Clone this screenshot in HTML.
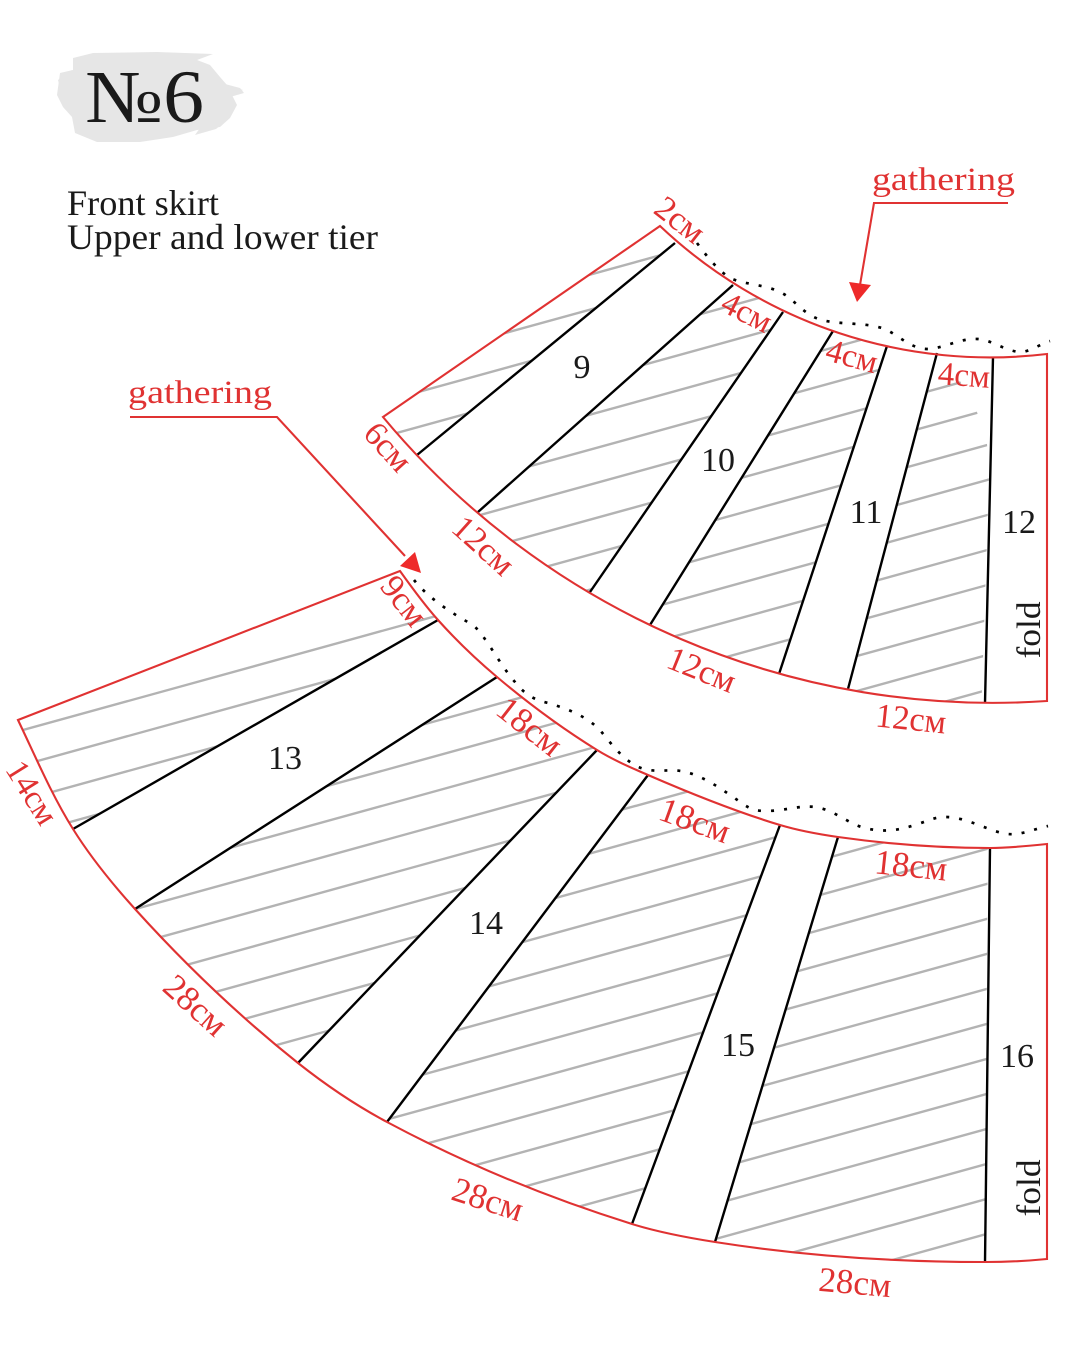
<!DOCTYPE html>
<html>
<head>
<meta charset="utf-8">
<style>
html,body{margin:0;padding:0;background:#fff;width:1081px;height:1350px;overflow:hidden}
svg{display:block;overflow:hidden}
text{font-family:"Liberation Serif",serif}
.r{fill:#e03232}
.k{fill:#1a1a1a}
.n{font-size:34px;text-anchor:middle;fill:#1a1a1a}
.l{text-anchor:middle;fill:#e03232}
</style>
</head>
<body>
<svg width="1081" height="1350" viewBox="0 0 1081 1350" xmlns="http://www.w3.org/2000/svg">
<defs>
<clipPath id="uo"><path d="M383,417 L660,226 A480,480 0 0 0 1047,354 L1047,701 A793,793 0 0 1 383,417 Z"/></clipPath>
<clipPath id="ur">
<polygon points="700,222 380,485 300,400 660,150"/>
<polygon points="761,260 440,546 565,628 800,287"/>
<polygon points="848,307 625,665 770,701 895,322"/>
<polygon points="944,326 840,719 981,719 989,478 987,444 977,412 960,381 955,326"/>
</clipPath>
<clipPath id="lo"><path d="M400,571 L18,720 C35.5,756.6 51.4,794.4 73,829 C90.9,857.7 112.4,884 135,909 C185,964.3 239.7,1016.6 298,1063 C325.8,1085 355.7,1105.3 387,1122 C464.9,1163.6 547.5,1197.7 632,1224 C659,1232.4 687,1237.6 715,1242 C804,1256 895,1262 985,1262 C1006,1262 1027,1261 1047,1259 L1047,844 C1028,846 1009,848 990,848 C939,848 888.3,844.1 838,837 C818.5,834.2 798.9,830.7 780,825 C735,811.5 691.1,793.7 648,775 C630.7,767.5 613.1,759.9 597,750 C561.9,728.3 528.6,703.6 497,677 C476.1,659.4 456.2,640.3 438,620 C424.2,604.6 412,587.8 400,571 Z"/></clipPath>
<clipPath id="lr">
<polygon points="473,600 40,848 -20,700 400,540"/>
<polygon points="530,656 100,931 270,1092 620,726"/>
<polygon points="668,748 365,1151 622,1251 790,798"/>
<polygon points="846,810 705,1275 985,1275 988,810"/>
</clipPath>
</defs>

<rect width="1081" height="1350" fill="#fff"/>

<g fill="#e6e6e6">
<polygon points="73,58 93,53 157,52 213,54 197,60 210,65 220,77 227,85 243,90 232,95 237,105 230,118 220,127 197,130 173,137 140,142 97,142 75,133 72,117 63,107 57,95 60,73 73,70"/>
<polygon points="200,128 222,124 216,129 195,135"/>
<polygon points="225,84 240,88 244,93 230,97"/>
<polygon points="58,80 72,70 72,76 60,88"/>
</g>
<text x="85" y="122" class="k" font-size="75" textLength="119" lengthAdjust="spacingAndGlyphs">№6</text>
<text x="67" y="215" class="k" font-size="36" textLength="152" lengthAdjust="spacingAndGlyphs">Front skirt</text>
<text x="67" y="249" class="k" font-size="36" textLength="311" lengthAdjust="spacingAndGlyphs">Upper and lower tier</text>

<!-- upper hatch -->
<g clip-path="url(#uo)"><g clip-path="url(#ur)" stroke="#b3b3b3" stroke-width="2.4" fill="none">
<path d="M380,332.6L1000,161.5M380,367.6L1000,196.5M380,402.6L1000,231.5M380,437.6L1000,266.5M380,472.6L1000,301.5M380,507.6L1000,336.5M380,542.6L1000,371.5M380,577.6L1000,406.5M380,612.6L1000,441.5M380,647.6L1000,476.5M380,682.6L1000,511.5M380,717.6L1000,546.5M380,752.6L1000,581.5M380,787.6L1000,616.5M380,822.6L1000,651.5M380,857.6L1000,686.5"/>
</g></g>

<!-- lower hatch -->
<g clip-path="url(#lo)"><g clip-path="url(#lr)" stroke="#b3b3b3" stroke-width="2.4" fill="none">
<path d="M-20,741.9L1000,460.3M-20,776.9L1000,495.3M-20,811.9L1000,530.3M-20,846.9L1000,565.3M-20,881.9L1000,600.3M-20,916.9L1000,635.3M-20,951.9L1000,670.3M-20,986.9L1000,705.3M-20,1021.9L1000,740.3M-20,1056.9L1000,775.3M-20,1091.9L1000,810.3M-20,1126.9L1000,845.3M-20,1161.9L1000,880.3M-20,1196.9L1000,915.3M-20,1231.9L1000,950.3M-20,1266.9L1000,985.3M-20,1301.9L1000,1020.3M-20,1336.9L1000,1055.3M96,1340L1000,1090.3M223,1340L1000,1125.3M350,1340L1000,1160.3M476,1340L1000,1195.3M603,1340L1000,1230.3"/>
</g></g>

<!-- black lines -->
<g stroke="#000" stroke-width="2.4" fill="none">
<path d="M675,243L417,455M733,285L478,512M783,312L590,592M833,331L650,625M887,346L779,674M937,353L848,689M993,357L985,703"/>
<path d="M438,620L73,829M497,677L135,909M597,750L298,1063M648,775L387,1122M780,825L632,1224M838,837L715,1242M990,848L985,1262"/>
</g>

<!-- outlines -->
<g stroke="#e03232" stroke-width="2.1" fill="none" stroke-linejoin="miter">
<path d="M383,417 L660,226 A480,480 0 0 0 1047,354 L1047,701 A793,793 0 0 1 383,417 Z"/>
<path d="M400,571 L18,720 C35.5,756.6 51.4,794.4 73,829 C90.9,857.7 112.4,884 135,909 C185,964.3 239.7,1016.6 298,1063 C325.8,1085 355.7,1105.3 387,1122 C464.9,1163.6 547.5,1197.7 632,1224 C659,1232.4 687,1237.6 715,1242 C804,1256 895,1262 985,1262 C1006,1262 1027,1261 1047,1259 L1047,844 C1028,846 1009,848 990,848 C939,848 888.3,844.1 838,837 C818.5,834.2 798.9,830.7 780,825 C735,811.5 691.1,793.7 648,775 C630.7,767.5 613.1,759.9 597,750 C561.9,728.3 528.6,703.6 497,677 C476.1,659.4 456.2,640.3 438,620 C424.2,604.6 412,587.8 400,571 Z"/>
</g>

<!-- dotted gathering -->
<g stroke="#000" stroke-width="2.7" fill="none" stroke-dasharray="3 10">
<path d="M697,243 C708,258 718,270 730,278 C745,285 765,284 782,293 C795,300 805,316 822,320 C840,325 870,322 887,330 C902,338 912,349 928,349 C945,348 960,338 978,339 C992,340 1005,351 1020,352 C1030,352 1040,344 1050,341"/>
<path d="M414,580 C430,600 455,615 473,625 C485,635 500,665 515,682 C525,695 535,700 548,703 C565,708 585,715 600,730 C612,745 625,762 641,768 C655,773 668,769 681,771 C700,774 720,788 733,797 C745,805 750,811 765,811 C785,811 800,805 815,807 C835,810 848,824 865,828 C885,833 900,830 918,824 C930,820 935,817 946,817 C965,817 985,829 1002,833 C1018,837 1030,830 1048,826"/>
</g>

<!-- arrows -->
<g stroke="#e03232" stroke-width="2.1" fill="none">
<path d="M1008,203 L874,203 L860,285"/>
<path d="M130,417 L277,417 L405,556"/>
</g>
<polygon fill="#ee2a2a" points="849,282 871,285 857,302"/>
<polygon fill="#ee2a2a" points="400,566 415,552 421,573"/>
<text x="872" y="190" class="r" font-size="33" textLength="143" lengthAdjust="spacingAndGlyphs">gathering</text>
<text x="128" y="403" class="r" font-size="33" textLength="144" lengthAdjust="spacingAndGlyphs">gathering</text>

<!-- red labels -->
<g class="l" font-size="34">
<text transform="translate(680,220) rotate(38)" y="11">2см</text>
<text transform="translate(388,447) rotate(48)" y="11">6см</text>
<text transform="translate(747,312) rotate(27)" y="11" font-size="33">4см</text>
<text transform="translate(852,356) rotate(15)" y="11" font-size="33">4см</text>
<text transform="translate(964,375) rotate(4)" y="11" font-size="33">4см</text>
<text transform="translate(484,545) rotate(42)" y="12" font-size="34">12см</text>
<text transform="translate(702,669) rotate(22)" y="12" font-size="34">12см</text>
<text transform="translate(911,718) rotate(6)" y="12" font-size="34">12см</text>
<text transform="translate(404,601) rotate(52)" y="11">9см</text>
<text transform="translate(33,792) rotate(58)" y="12" font-size="33">14см</text>
<text transform="translate(530,726) rotate(38)" y="12" font-size="35">18см</text>
<text transform="translate(695,820) rotate(20)" y="12" font-size="35">18см</text>
<text transform="translate(911,865) rotate(6)" y="12" font-size="35">18см</text>
<text transform="translate(196,1005) rotate(42)" y="12" font-size="35">28см</text>
<text transform="translate(488,1199) rotate(18)" y="12" font-size="35">28см</text>
<text transform="translate(855,1282) rotate(5)" y="12" font-size="35">28см</text>
</g>

<!-- numbers -->
<text class="n" x="582" y="378">9</text>
<text class="n" x="718" y="471">10</text>
<text class="n" x="866" y="523">11</text>
<text class="n" x="1019" y="533">12</text>
<text class="n" x="285" y="769">13</text>
<text class="n" x="486" y="934">14</text>
<text class="n" x="738" y="1056">15</text>
<text class="n" x="1017" y="1067">16</text>
<text class="n" transform="translate(1040,630) rotate(-90)" textLength="57" lengthAdjust="spacingAndGlyphs">fold</text>
<text class="n" transform="translate(1040,1188) rotate(-90)" textLength="57" lengthAdjust="spacingAndGlyphs">fold</text>
</svg>
</body>
</html>
